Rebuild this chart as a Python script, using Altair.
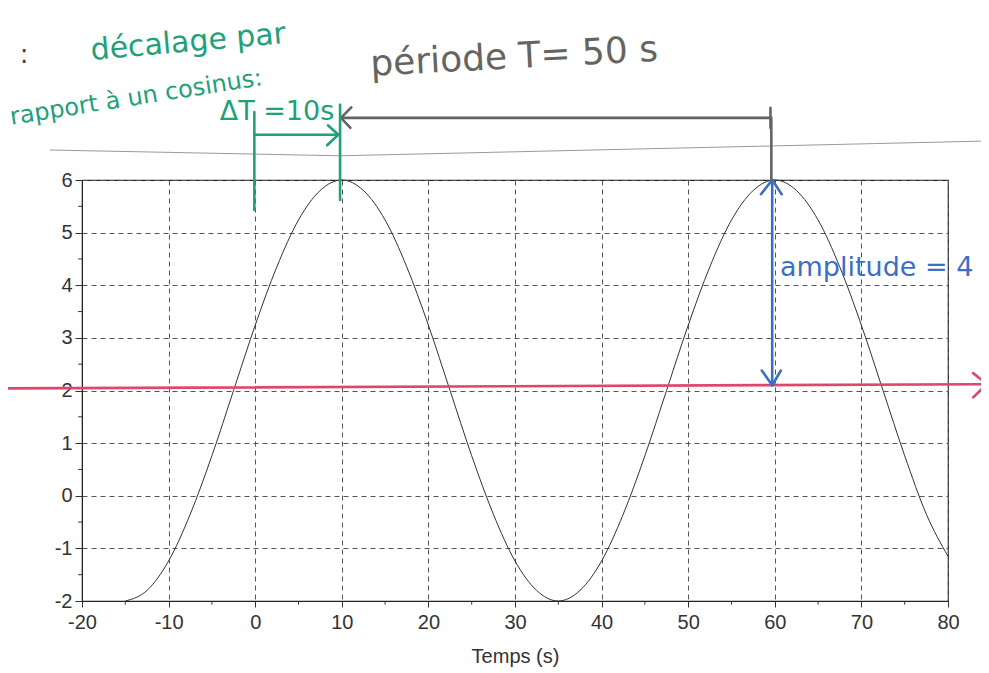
import altair as alt
import pandas as pd

# ---- data ----
temps = [-15, -12.5, -10, -7.5, -5, -2.5, 0, 2.5, 5, 7.5, 10, 12.5, 15, 17.5, 20,
         22.5, 25, 27.5, 30, 32.5, 35, 37.5, 40, 42.5, 45, 47.5, 50, 52.5, 55,
         57.5, 60, 62.5, 65, 67.5, 70, 72.5, 75, 77.5, 80]
valeurs = [-2.00, -1.80, -1.24, -0.35, 0.76, 2.00, 3.24, 4.35, 5.24, 5.80, 6.00,
           5.80, 5.24, 4.35, 3.24, 2.00, 0.76, -0.35, -1.24, -1.80, -2.00, -1.80,
           -1.24, -0.35, 0.76, 2.00, 3.24, 4.35, 5.24, 5.80, 6.00, 5.80, 5.24,
           4.35, 3.24, 2.00, 0.76, -0.35, -1.15]
x_ticks = [-20, -10, 0, 10, 20, 30, 40, 50, 60, 70, 80]
y_ticks = [-2, -1, 0, 1, 2, 3, 4, 5, 6]
x_minor = [-15, -5, 5, 15, 25, 35, 45, 55, 65, 75]
y_minor = [-1.5, -0.5, 0.5, 1.5, 2.5, 3.5, 4.5, 5.5]

# hand-drawn annotation segments (in data units): x1, y1, x2, y2, colour
RED, BLUE, GREY, GREEN = "#e0456e", "#3b6fc6", "#65655f", "#22a07a"
seg_x1 = [-28.6, 82.9, 82.9,   59.7, 58.4, 60.8, 58.5, 60.7,
          9.9, 9.9, 9.9, 59.5, 59.5, 59.6,
          -0.1, 9.8, -0.1, 8.4, 8.3]
seg_y1 = [2.04, 2.33, 1.87,    6.00, 5.73, 5.73, 2.38, 2.38,
          7.18, 7.18, 7.18, 7.37, 6.99, 7.18,
          7.29, 7.43, 6.86, 7.04, 6.66]
seg_x2 = [84.5, 84.5, 84.5,    59.7, 59.7, 59.7, 59.7, 59.7,
          59.5, 11.1, 11.0, 59.5, 59.5, 59.6,
          -0.1, 9.8, 9.6, 9.6, 9.6]
seg_y2 = [2.12, 2.12, 2.12,    2.10, 6.00, 6.00, 2.10, 2.10,
          7.18, 7.38, 6.99, 7.18, 7.18, 6.00,
          5.43, 5.62, 6.86, 6.86, 6.86]
seg_col = [RED] * 3 + [BLUE] * 5 + [GREY] * 6 + [GREEN] * 5

# scanned paper edge line
edge_t = [-23.7, 9.8, 84.3]
edge_v = [6.57, 6.46, 6.74]

# handwritten texts: text, t, v, size, angle, colour
notes = [
    (":", -27.2, 8.38, 26, 0, "#444444"),
    ("décalage par", -19.0, 8.45, 30, 355, GREEN),
    ("rapport à un cosinus:", -28.3, 7.18, 24, 351, GREEN),
    ("ΔT =10s", -4.1, 7.29, 27, 0, GREEN),
    ("période   T= 50 s", 13.3, 8.19, 36, 357, GREY),
    ("amplitude = 4", 60.6, 4.33, 27, 0, BLUE),
]

# ---- chart ----
X = alt.Scale(domain=[-20, 80], nice=False, zero=False)
Y = alt.Scale(domain=[-2, 6], nice=False, zero=False)
AX = alt.Axis(values=x_ticks, title="Temps (s)", grid=True, tickSize=6,
              labelPadding=5, titlePadding=14, labelFlush=False, labelOverlap=False,
              labelExpr="toString(datum.value)")
AY = alt.Axis(values=y_ticks, title=None, grid=True, tickSize=7,
              labelPadding=3, labelFlush=False, labelOverlap=False,
              labelExpr="toString(datum.value)")

curve = pd.DataFrame({"t": temps, "v": valeurs})
base_line = alt.Chart(curve).mark_line(color="#333333", strokeWidth=1,
                                      interpolate="monotone").encode(
    x=alt.X("t:Q", scale=X, axis=AX),
    y=alt.Y("v:Q", scale=Y, axis=AY),
)

xm = pd.DataFrame({"t": x_minor, "a": [-2.0] * len(x_minor), "b": [-2.07] * len(x_minor)})
minor_x = alt.Chart(xm).mark_rule(color="#333333", strokeWidth=1).encode(
    x=alt.X("t:Q", scale=X, axis=AX),
    y=alt.Y("a:Q", scale=Y, axis=AY), y2="b:Q")
ym = pd.DataFrame({"v": y_minor, "a": [-20.0] * len(y_minor), "b": [-20.45] * len(y_minor)})
minor_y = alt.Chart(ym).mark_rule(color="#333333", strokeWidth=1).encode(
    x=alt.X("a:Q", scale=X, axis=AX), x2="b:Q",
    y=alt.Y("v:Q", scale=Y, axis=AY))

edge = alt.Chart(pd.DataFrame({"t": edge_t, "v": edge_v})).mark_line(
    color="#9a9a9a", strokeWidth=1).encode(
    x=alt.X("t:Q", scale=X, axis=AX), y=alt.Y("v:Q", scale=Y, axis=AY))

segs = pd.DataFrame({"x1": seg_x1, "y1": seg_y1, "x2": seg_x2, "y2": seg_y2, "c": seg_col})
arrows = alt.Chart(segs).mark_rule(strokeWidth=2.6, strokeCap="round").encode(
    x=alt.X("x1:Q", scale=X, axis=AX), x2="x2:Q",
    y=alt.Y("y1:Q", scale=Y, axis=AY), y2="y2:Q",
    color=alt.Color("c:N", scale=None),
)

text_layers = []
for txt, t, v, size, ang, col in notes:
    text_layers.append(
        alt.Chart(pd.DataFrame({"t": [t], "v": [v], "s": [txt]})).mark_text(
            align="left", baseline="middle", font="DejaVu Sans", fontSize=size,
            angle=ang, color=col).encode(
            x=alt.X("t:Q", scale=X, axis=AX), y=alt.Y("v:Q", scale=Y, axis=AY),
            text="s:N")
    )

chart = alt.layer(edge, base_line, minor_x, minor_y, arrows, *text_layers).properties(
    width=866, height=421,
    autosize=alt.AutoSizeParams(type="none"),
    padding={"left": 74, "top": 172, "right": 33, "bottom": 72},
    background="white",
).configure_view(stroke="#222222", strokeWidth=1.2).configure_axis(
    domainColor="#222222", tickColor="#333333", gridColor="#555555",
    gridDash=[5, 4], gridWidth=1, labelFont="Liberation Sans", labelFontSize=20,
    labelColor="#333333", titleFont="Liberation Sans", titleFontSize=20,
    titleFontWeight="normal", titleColor="#333333",
)

chart.save("out.html", embed_options={"renderer": "svg", "actions": False})
